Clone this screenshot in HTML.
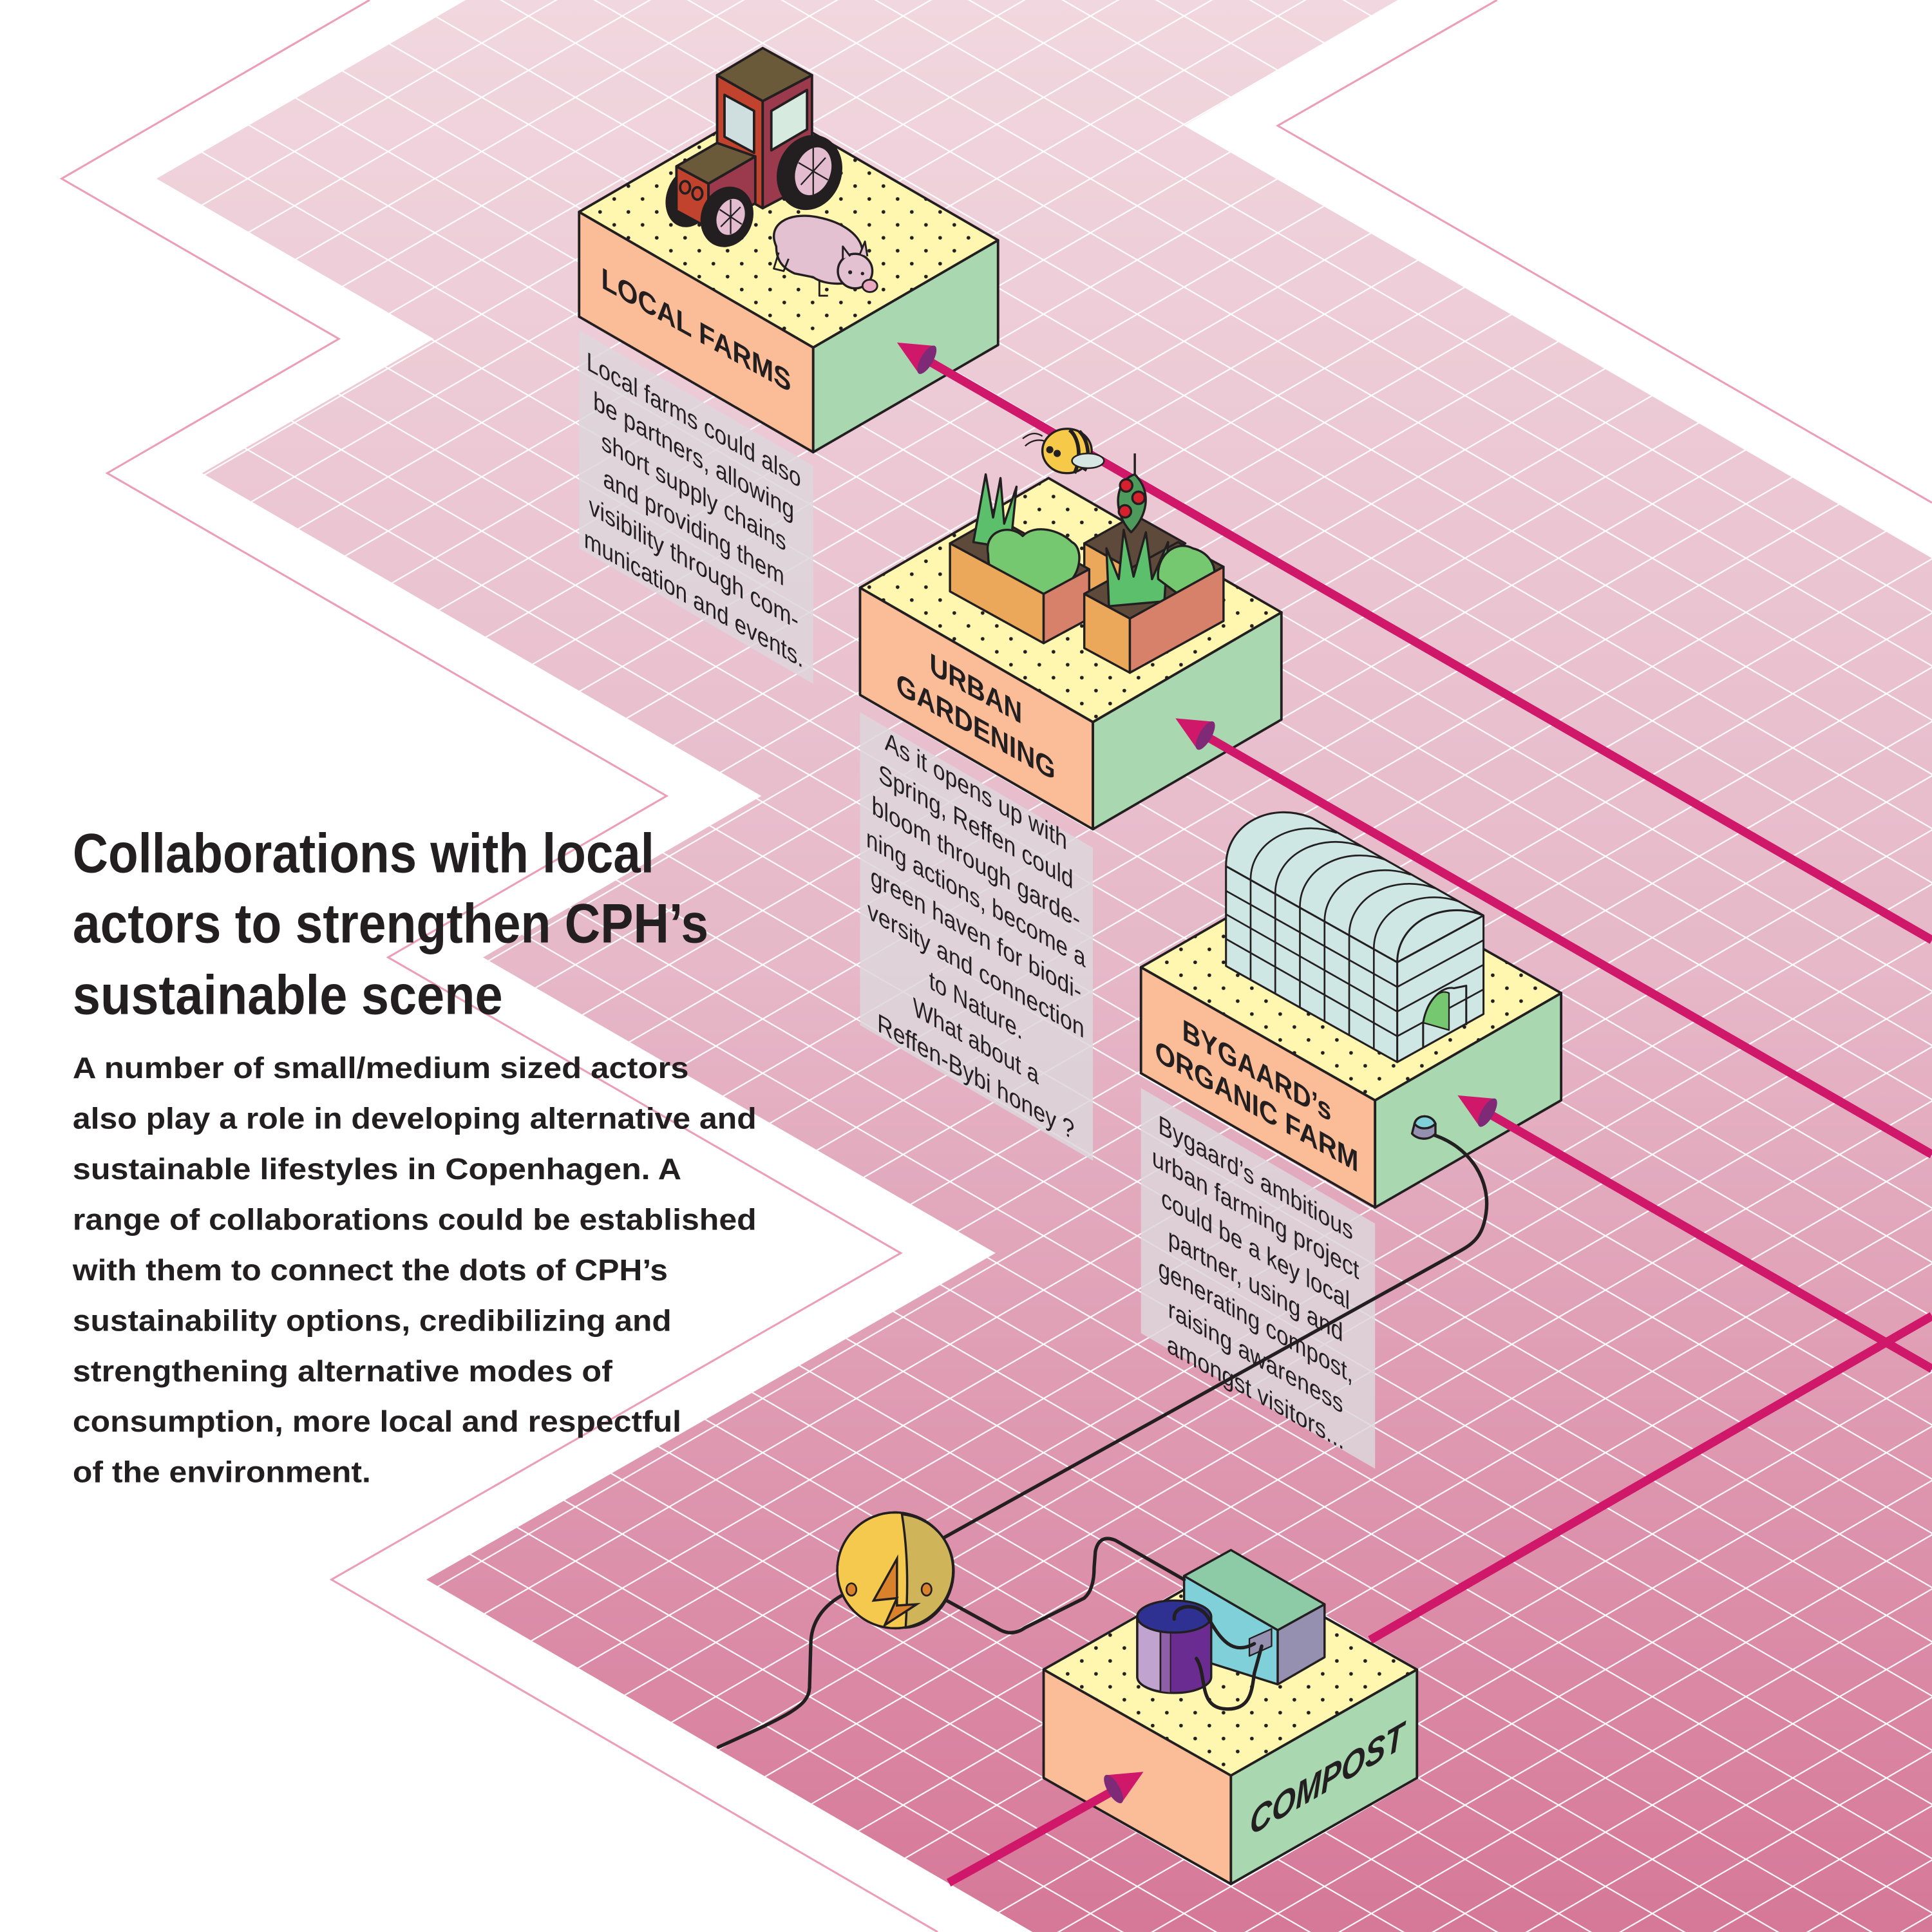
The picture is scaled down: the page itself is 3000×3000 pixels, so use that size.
<!DOCTYPE html>
<html><head><meta charset="utf-8"><style>
html,body{margin:0;padding:0;background:#fff;}
svg{display:block;}
text{font-family:"Liberation Sans",Arial,sans-serif;fill:#231f20;}
</style></head><body>
<svg xmlns="http://www.w3.org/2000/svg" width="3000" height="3000" viewBox="0 0 1568 1568">
<defs>
<linearGradient id="pg" x1="0" y1="0" x2="0" y2="1">
<stop offset="0" stop-color="#f1d7df"/><stop offset="0.5" stop-color="#e6b8c8"/><stop offset="1" stop-color="#d67898"/>
</linearGradient>
<pattern id="grid" width="76" height="44" patternUnits="userSpaceOnUse" patternTransform="translate(49,13)">
<path d="M0,0 L76,44 M0,44 L76,0" stroke="#fff" stroke-width="1.1" fill="none"/>
</pattern>
<pattern id="dots" width="23" height="21" patternUnits="userSpaceOnUse">
<circle cx="4" cy="4" r="1.5" fill="#231f20"/><circle cx="15.5" cy="14.5" r="1.5" fill="#231f20"/>
</pattern>
<clipPath id="pc"><polygon points="378,0 1135,0 961,102 1568,452 1568,1568 838,1568 346,1282 808,1017 392,777 618,646 164,384 352,275 127,145"/></clipPath>
<g id="ah"><path d="M0,0 L28,-13 L28,13 Z" fill="#d0186b"/><ellipse cx="28" cy="0" rx="5" ry="13" fill="#7f2a77"/></g>
</defs>
<rect width="1568" height="1568" fill="#fff"/>
<g clip-path="url(#pc)">
<rect width="1568" height="1568" fill="url(#pg)"/>
<rect width="1568" height="1568" fill="url(#grid)"/>
</g>
<polyline points="300,0 50,145 275,275 87,384 541,646 315,777 731,1017 269,1282 761,1568" fill="none" stroke="#ec9db7" stroke-width="1.6"/>
<polyline points="1215,0 1037,102 1568,408" fill="none" stroke="#ec9db7" stroke-width="1.6"/>

<!-- text panels -->
<polygon points="470,268 660,378 660,555 470,445" fill="#ddd6db" opacity="0.85"/>
<polygon points="698,578 887,688 887,942 698,832" fill="#ddd6db" opacity="0.85"/>
<polygon points="926,883 1116,993 1116,1192 926,1082" fill="#ddd6db" opacity="0.85"/>

<!-- LOCAL FARMS box -->
<g stroke="#231f20" stroke-width="2" stroke-linejoin="round">
<polygon points="470,172 660,282 660,367 470,257" fill="#fbbd98"/>
<polygon points="660,282 810,195 810,280 660,367" fill="#a9d8b0"/>
<polygon points="470,172 620,85 810,195 660,282" fill="#fff7b0"/>
</g>
<polygon points="470,172 620,85 810,195 660,282" fill="url(#dots)"/>

<!-- tractor -->
<g stroke="#231f20" stroke-width="2" stroke-linejoin="round">
<ellipse cx="560" cy="160" rx="18" ry="24" fill="#231f20" transform="rotate(20 560 160)"/>
<polygon points="582,61 619,82 619,169 582,148" fill="#c1432d"/>
<polygon points="619,82 659,61 659,148 619,169" fill="#9b3a4c"/>
<polygon points="588,77 612,90 612,124 588,111" fill="#cfdede"/>
<polygon points="626,90 655,73 655,105 626,122" fill="#d6eae0"/>
<polygon points="582,61 619,39 659,61 619,82" fill="#6b5a3a"/>
<polygon points="549,135 575,149 575,185 549,171" fill="#c1432d"/>
<polygon points="575,149 613,127 613,165 575,185" fill="#9b3a4c"/>
<polygon points="549,135 582,116 613,127 575,149" fill="#6b5a3a"/>
<ellipse cx="556" cy="152" rx="4" ry="5" fill="none"/><ellipse cx="566" cy="157" rx="4" ry="5" fill="none"/>
<ellipse cx="657" cy="140" rx="25" ry="30" fill="#231f20" transform="rotate(20 657 140)"/>
<ellipse cx="660" cy="139" rx="15" ry="21" fill="#e3bcd0" transform="rotate(20 660 139)"/>
<path d="M660,120 L660,158 M648,132 L672,146 M650,150 L670,128" fill="none" stroke-width="1.2"/>
<ellipse cx="590" cy="176" rx="20" ry="24" fill="#231f20" transform="rotate(20 590 176)"/>
<ellipse cx="593" cy="176" rx="12" ry="16" fill="#e3bcd0" transform="rotate(20 593 176)"/>
<path d="M593,162 L593,190 M584,170 L602,182 M585,184 L601,168" fill="none" stroke-width="1.2"/>
<path d="M630,200 C622,182 640,172 662,176 C685,180 700,192 700,205 L700,225 C690,232 670,232 660,225 L645,222 C636,218 630,212 630,200 Z" fill="#e4c1d0" stroke-width="1.8"/>
<path d="M632,205 L628,218 L636,220 L640,210 M665,228 L665,240 L672,240" fill="none" stroke-width="1.5"/>
<ellipse cx="694" cy="220" rx="14" ry="14" fill="#e4c1d0" stroke-width="1.8"/>
<ellipse cx="706" cy="232" rx="6" ry="5" fill="#e8a9c0" stroke-width="1.5"/>
<path d="M684,210 L684,200 L690,208 M698,206 L702,196 L704,208" fill="#e4c1d0" stroke-width="1.5"/>
<circle cx="690" cy="221" r="1.6" fill="#231f20" stroke="none"/><circle cx="700" cy="222" r="1.4" fill="#231f20" stroke="none"/>
</g>

<!-- line 1 -->
<line x1="752" y1="292" x2="1568" y2="763" stroke="#d0186b" stroke-width="7"/>
<use href="#ah" transform="translate(728,278) rotate(30)"/>

<!-- URBAN GARDENING box -->
<g stroke="#231f20" stroke-width="2" stroke-linejoin="round">
<polygon points="698,477 887,586 887,673 698,564" fill="#fbbd98"/>
<polygon points="887,586 1040,497 1040,584 887,673" fill="#a9d8b0"/>
<polygon points="698,477 851,388 1040,497 887,586" fill="#fff7b0"/>
</g>
<polygon points="698,477 851,388 1040,497 887,586" fill="url(#dots)"/>
<g stroke="#231f20" stroke-width="1.8" stroke-linejoin="round">
<polygon points="880,441 921,418 962,441 921,464" fill="#5e4a3a"/>
<polygon points="880,441 921,464 921,500 880,478" fill="#eca85a"/>
<polygon points="771,441 808,420 884,462 847,482" fill="#5e4a3a"/>
<path d="M790,440 L800,385 L806,420 L812,388 L815,425 L825,395 L820,445 Z" fill="#5cbf6c"/>
<path d="M802,450 C798,430 820,425 830,435 C840,425 860,430 870,440 C880,445 878,470 860,478 C845,488 825,485 815,475 C805,470 802,460 802,450 Z" fill="#76c870"/>
<polygon points="771,441 847,482 847,522 771,480" fill="#eca85a"/>
<polygon points="847,482 884,462 884,502 847,522" fill="#d7806a"/>
<polygon points="880,482 956,440 993,460 917,502" fill="#5e4a3a"/>
<path d="M900,492 L898,445 L908,470 L912,430 L920,468 L930,432 L935,470 L948,440 L945,488 Z" fill="#5cbf6c"/>
<path d="M940,470 C938,450 955,438 968,445 C980,448 988,458 985,470 L960,485 Z" fill="#76c870"/>
<polygon points="880,482 917,502 917,546 880,526" fill="#eca85a"/>
<polygon points="917,502 993,460 993,504 917,546" fill="#d7806a"/>
<line x1="921" y1="368" x2="921" y2="392"/>
<path d="M921,385 C905,390 902,415 918,432 C930,420 936,400 921,385 Z" fill="#4e9a5c"/>
<circle cx="914" cy="394" r="5" fill="#d7202e"/><circle cx="924" cy="404" r="5" fill="#d7202e"/><circle cx="913" cy="415" r="5" fill="#d7202e"/>
<path d="M846,354 C840,350 835,352 830,356 M848,358 C842,356 836,358 832,362" fill="none" stroke-width="1.2"/>
<ellipse cx="866" cy="366" rx="20" ry="18" fill="#f7c948"/>
<path d="M868,349 C876,355 878,372 872,384 M876,350 C884,358 885,374 880,382" fill="none" stroke-width="3"/>
<ellipse cx="883" cy="374" rx="13" ry="6" fill="#d5e6e3" stroke-width="1.3"/>
<circle cx="852" cy="365" r="2" fill="#231f20"/><circle cx="858" cy="368" r="2" fill="#231f20"/>
</g>

<!-- line 2 -->
<line x1="978" y1="597" x2="1568" y2="937" stroke="#d0186b" stroke-width="7"/>
<use href="#ah" transform="translate(954,583) rotate(30)"/>

<!-- BYGAARD box -->
<g stroke="#231f20" stroke-width="2" stroke-linejoin="round">
<polygon points="926,785 1116,893 1116,980 926,871" fill="#fbbd98"/>
<polygon points="1116,893 1267,806 1267,893 1116,980" fill="#a9d8b0"/>
<polygon points="926,785 1077,698 1267,806 1116,893" fill="#fff7b0"/>
</g>
<polygon points="926,785 1077,698 1267,806 1116,893" fill="url(#dots)"/>
<g stroke="#231f20" stroke-width="1.6" stroke-linejoin="round">
<path d="M995,703 C995,668 1032,650 1065,664 L1204,743 L1204,823 L1134,862 L995,784 Z" fill="#cfe7e4"/>
<path d="M1134,781 C1134,748 1172,730 1204,743" fill="none"/>
<path d="M995,703 L1134,781 L1134,862 M1134,781 L1204,743" fill="none"/>
<g fill="none" stroke-width="1.4">
<path d="M1015,714 C1015,682 1052,664 1085,676"/>
<path d="M1035,725 C1035,693 1072,675 1105,687"/>
<path d="M1055,736 C1055,704 1092,686 1125,698"/>
<path d="M1075,748 C1075,716 1112,698 1145,710"/>
<path d="M1095,759 C1095,727 1132,709 1165,721"/>
<path d="M1115,770 C1115,738 1152,720 1185,732"/>
<path d="M1015,714 L1015,795 M1035,725 L1035,806 M1055,736 L1055,818 M1075,748 L1075,829 M1095,759 L1095,840 M1115,770 L1115,851"/>
<path d="M995,723 L1134,801 L1204,763 M995,742 L1134,821 L1204,783 M995,762 L1134,841 L1204,803"/>
</g>
<path d="M1155,830 C1158,812 1168,802 1176,806 L1176,836 Z" fill="#76c870" stroke-width="1.2"/>
<path d="M1155,850 L1155,830 C1158,812 1170,800 1180,802 L1190,800 L1190,832" fill="none"/>
</g>

<!-- line 3 -->
<line x1="1207" y1="903" x2="1568" y2="1111" stroke="#d0186b" stroke-width="7"/>
<use href="#ah" transform="translate(1183,889) rotate(30)"/>

<!-- COMPOST box -->
<g stroke="#231f20" stroke-width="2" stroke-linejoin="round">
<polygon points="847,1355 999,1441 999,1529 847,1443" fill="#fbbd98"/>
<polygon points="999,1441 1150,1355 1150,1443 999,1529" fill="#a9d8b0"/>
<polygon points="847,1355 998,1269 1150,1355 999,1441" fill="#fff7b0"/>
</g>
<polygon points="847,1355 998,1269 1150,1355 999,1441" fill="url(#dots)"/>
<line x1="1112" y1="1331" x2="1568" y2="1068" stroke="#d0186b" stroke-width="7"/>
<line x1="770" y1="1528" x2="906" y2="1452" stroke="#d0186b" stroke-width="7"/>
<use href="#ah" transform="translate(928,1438) rotate(150)"/>
<g stroke="#231f20" stroke-width="1.8" stroke-linejoin="round">
<polygon points="961,1279 1037,1323 1037,1367 961,1343" fill="#7fd0d8"/>
<polygon points="1037,1323 1075,1302 1075,1345 1037,1367" fill="#9590b0"/>
<polygon points="961,1279 999,1258 1075,1302 1037,1323" fill="#8ccba6"/>
<polygon points="1014,1330 1032,1322 1032,1336 1014,1344" fill="#9590b0" stroke-width="1.2"/>
<path d="M923,1312 L923,1361 A30,13 0 0 0 983,1361 L983,1312 Z" fill="#6a2c91"/>
<path d="M923,1312 L923,1361 A30,13 0 0 0 942,1373 L942,1324 A30,13 0 0 1 923,1312 Z" fill="#c0a3cf"/>
<path d="M942,1324 L942,1373 L950,1374 L950,1325 Z" fill="#8e5ea8" stroke-width="1"/>
<ellipse cx="953" cy="1312" rx="30" ry="13" fill="#2e3192"/>
</g>
<g stroke="#231f20" stroke-width="2.8" fill="none" stroke-linecap="round">
<path d="M953,1314 C952,1302 972,1300 980,1312 C990,1330 1000,1344 1018,1334"/>
<path d="M971,1346 C980,1360 972,1386 995,1387 C1015,1388 1016,1372 1018,1358 L1024,1336"/>
<path d="M1160,920 C1195,930 1210,960 1206,985 C1203,1005 1195,1010 1180,1018 L766,1248"/>
<path d="M691,1291 C670,1300 658,1315 658,1335 L657,1370 C656,1385 640,1392 583,1418"/>
<path d="M752,1290 L812,1323 Q822,1328 832,1321 L880,1297 Q888,1290 888,1272 L889,1259 Q892,1245 905,1250 L961,1282"/>
</g>
<g stroke="#231f20" stroke-width="1.8">
<path d="M1148,912 C1150,904 1162,904 1165,912 L1165,920 C1160,926 1150,925 1146,920 Z" fill="#9590b0"/>
<path d="M1148,912 C1150,904 1162,904 1165,912 C1160,917 1152,917 1148,912 Z" fill="#7fd0d8"/>
<circle cx="726.5" cy="1274.5" r="47" fill="#f5c94e"/>
<path d="M732,1229 C755,1231 774,1250 774,1275 C774,1300 755,1320 735,1321 C737,1290 737,1260 732,1229 Z" fill="#cfb45a"/>
<circle cx="726.5" cy="1274.5" r="47" fill="none"/>
<polygon points="728,1265 709,1299 728,1297 718,1319 744,1302 728,1303" fill="#d9822b"/>
<ellipse cx="691" cy="1290" rx="4" ry="5" fill="#d9822b" stroke-width="1.4"/>
<ellipse cx="752" cy="1290" rx="4" ry="5" fill="#d9822b" stroke-width="1.4"/>
</g>

<!-- box labels -->
<g font-weight="bold" font-size="24" text-anchor="middle">
<text transform="translate(565,276) skewY(29)" textLength="154" lengthAdjust="spacingAndGlyphs">LOCAL FARMS</text>
<text transform="translate(792,567) skewY(29)" textLength="75" lengthAdjust="spacingAndGlyphs">URBAN</text>
<text transform="translate(792,598) skewY(29)" textLength="129" lengthAdjust="spacingAndGlyphs">GARDENING</text>
<text transform="translate(1020,877) skewY(29)" textLength="121" lengthAdjust="spacingAndGlyphs">BYGAARD’s</text>
<text transform="translate(1020,906) skewY(29)" textLength="165" lengthAdjust="spacingAndGlyphs">ORGANIC FARM</text>
<text transform="translate(1077,1454) skewY(-30)" font-size="30" font-style="italic" textLength="125" lengthAdjust="spacingAndGlyphs">COMPOST</text>
</g>

<!-- panel texts -->
<g font-size="21" text-anchor="middle">
<g transform="translate(563,348) skewY(29)">
<text y="0" textLength="174" lengthAdjust="spacingAndGlyphs">Local farms could also</text>
<text y="29" textLength="163" lengthAdjust="spacingAndGlyphs">be partners, allowing</text>
<text y="58" textLength="150" lengthAdjust="spacingAndGlyphs">short supply chains</text>
<text y="87" textLength="147" lengthAdjust="spacingAndGlyphs">and providing them</text>
<text y="116" textLength="170" lengthAdjust="spacingAndGlyphs">visibility through com-</text>
<text y="145" textLength="178" lengthAdjust="spacingAndGlyphs">munication and events.</text>
</g>
<g transform="translate(792,649) skewY(29)">
<text y="0" textLength="148" lengthAdjust="spacingAndGlyphs">As it opens up with</text>
<text y="29" textLength="158" lengthAdjust="spacingAndGlyphs">Spring, Reffen could</text>
<text y="58" textLength="169" lengthAdjust="spacingAndGlyphs">bloom through garde-</text>
<text y="87" textLength="178" lengthAdjust="spacingAndGlyphs">ning actions, become a</text>
<text y="116" textLength="171" lengthAdjust="spacingAndGlyphs">green haven for biodi-</text>
<text y="145" textLength="176" lengthAdjust="spacingAndGlyphs">versity and connection</text>
<text y="174" textLength="76" lengthAdjust="spacingAndGlyphs">to Nature.</text>
<text y="203" textLength="102" lengthAdjust="spacingAndGlyphs">What about a</text>
<text y="232" textLength="160" lengthAdjust="spacingAndGlyphs">Reffen-Bybi honey ?</text>
</g>
<g transform="translate(1019,963) skewY(29)">
<text y="0" textLength="158" lengthAdjust="spacingAndGlyphs">Bygaard’s ambitious</text>
<text y="29" textLength="168" lengthAdjust="spacingAndGlyphs">urban farming project</text>
<text y="58" textLength="153" lengthAdjust="spacingAndGlyphs">could be a key local</text>
<text y="87" textLength="142" lengthAdjust="spacingAndGlyphs">partner, using and</text>
<text y="116" textLength="158" lengthAdjust="spacingAndGlyphs">generating compost,</text>
<text y="145" textLength="142" lengthAdjust="spacingAndGlyphs">raising awareness</text>
<text y="174" textLength="144" lengthAdjust="spacingAndGlyphs">amongst visitors...</text>
</g>
</g>

<!-- title & body -->
<g font-weight="bold">
<text x="59" y="708" font-size="45" textLength="472" lengthAdjust="spacingAndGlyphs">Collaborations with local</text>
<text x="59" y="765" font-size="45" textLength="516" lengthAdjust="spacingAndGlyphs">actors to strengthen CPH’s</text>
<text x="59" y="823" font-size="45" textLength="349" lengthAdjust="spacingAndGlyphs">sustainable scene</text>
<g font-size="24">
<text x="59" y="875" textLength="500" lengthAdjust="spacingAndGlyphs">A number of small/medium sized actors</text>
<text x="59" y="916" textLength="555" lengthAdjust="spacingAndGlyphs">also play a role in developing alternative and</text>
<text x="59" y="957" textLength="494" lengthAdjust="spacingAndGlyphs">sustainable lifestyles in Copenhagen. A</text>
<text x="59" y="998" textLength="555" lengthAdjust="spacingAndGlyphs">range of collaborations could be established</text>
<text x="59" y="1039" textLength="483" lengthAdjust="spacingAndGlyphs">with them to connect the dots of CPH’s</text>
<text x="59" y="1080" textLength="486" lengthAdjust="spacingAndGlyphs">sustainability options, credibilizing and</text>
<text x="59" y="1121" textLength="438" lengthAdjust="spacingAndGlyphs">strengthening alternative modes of</text>
<text x="59" y="1162" textLength="494" lengthAdjust="spacingAndGlyphs">consumption, more local and respectful</text>
<text x="59" y="1203" textLength="242" lengthAdjust="spacingAndGlyphs">of the environment.</text>
</g>
</g>
</svg>
</body></html>
